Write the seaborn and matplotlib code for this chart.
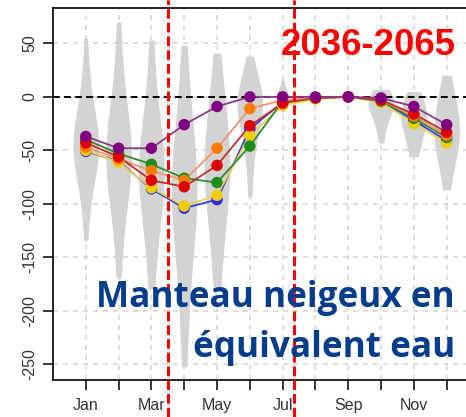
import matplotlib
matplotlib.use("Agg")
import matplotlib.pyplot as plt
import seaborn as sns
import pandas as pd

sns.set_style("white")
plt.rcParams['font.family'] = ['Liberation Sans', 'DejaVu Sans']

# ---------------- data ----------------
months = [1, 2, 3, 4, 5, 6, 7, 8, 9, 10, 11, 12]
month_labels = ["Jan", "", "Mar", "", "May", "", "Jul", "", "Sep", "", "Nov", ""]

# approximate ensemble spread (violins), per month
v_jan = [55, 22, 2, -14, -24, -31, -36, -40, -43, -45, -47, -50, -53, -57, -63, -71, -84, -104, -134]
v_feb = [70, 32, 6, -12, -26, -36, -43, -48, -52, -55, -58, -62, -67, -73, -82, -95, -114, -138, -169]
v_mar = [53, 18, -8, -26, -39, -49, -56, -61, -65, -69, -73, -78, -84, -92, -103, -118, -137, -158, -180]
v_apr = [48, 12, -16, -38, -54, -66, -74, -80, -85, -89, -94, -100, -108, -120, -136, -158, -186, -217, -252]
v_may = [41, 18, 0, -15, -28, -39, -48, -55, -61, -66, -71, -77, -84, -93, -105, -120, -140, -160, -178]
v_jun = [38, 17, 8, 3, 0, -2, -4, -6, -8, -11, -15, -20, -27, -37, -51, -70, -93]
v_jul = [16, 8, 4, 2, 0, -1, -2, -4, -7, -14]
v_aug = [2, 1, 0, 0, -1, -2, -3]
v_sep = [1, 0, 0, 0, -1, -1, -2]
v_oct = [7, 3, 0, -2, -4, -6, -8, -10, -13, -17, -23, -32, -43]
v_nov = [5, 0, -5, -9, -13, -16, -19, -22, -25, -29, -34, -41, -48, -56]
v_dec = [20, 8, -2, -10, -17, -23, -28, -32, -36, -40, -45, -51, -59, -70, -87]

# scenario series (points)
s_blue = [-51, -60, -86, -104, -96, -30, -5, -1, 0, -4, -22, -41]
s_yellow = [-50, -61, -85, -102, -92, -36, -8, -2, 0, -5, -25, -43]
s_green = [-40, -53, -63, -76, -80, -46, -4, -1, 0, -4, -20, -38]
s_orange = [-47, -58, -69, -78, -48, -11, -3, -1, 0, -3, -18, -36]
s_red = [-43, -56, -78, -84, -64, -27, -6, -1, 0, -3, -16, -33]
s_purple = [-37, -48, -48, -26, -9, 0, 0, 0, 0, -1, -9, -26]

series_names = ["blue", "yellow", "green", "orange", "red", "purple"]
series_vals = [s_blue, s_yellow, s_green, s_orange, s_red, s_purple]
marker_colors = ["#2a2ae6", "#f2cc00", "#1c8c1c", "#ff7a00", "#dd0000", "#800080"]
line_colors = ["#3a3aee", "#e8d44a", "#2e8b2e", "#f4956a", "#c0302a", "#8b3a8b"]

title_text = "2036-2065"
label_line1 = "Manteau neigeux en"
label_line2 = "équivalent eau"

# ---------------- build tables ----------------
violins_main = {1: v_jan, 2: v_feb, 3: v_mar, 4: v_apr, 5: v_may, 6: v_jun,
                10: v_oct, 11: v_nov, 12: v_dec}
violins_small = {7: v_jul, 8: v_aug, 9: v_sep}

def to_df(d):
    rows = []
    for m, vals in d.items():
        for v in vals:
            rows.append((m, v))
    return pd.DataFrame(rows, columns=["month", "value"])

vdf_main = to_df(violins_main)
vdf_small = to_df(violins_small)

rows = []
for name, vals in zip(series_names, series_vals):
    for m, v in zip(months, vals):
        rows.append((name, m, v))
sdf = pd.DataFrame(rows, columns=["series", "month", "value"])

# ---------------- figure ----------------
W, H = 466, 417
fig = plt.figure(figsize=(W / 100, H / 100), dpi=100)
ax_left, ax_bottom, ax_top = 53, 37, 8
ax_h = H - ax_bottom - ax_top
ax = fig.add_axes([ax_left / W, ax_bottom / H, 1 - ax_left / W, ax_h / H])

sns.violinplot(data=vdf_main, x="month", y="value", native_scale=True, color="#d3d3d3",
               saturation=1, linewidth=0, inner=None, cut=0, density_norm="width",
               width=0.78, bw_adjust=1.25, ax=ax)
sns.violinplot(data=vdf_small, x="month", y="value", native_scale=True, color="#d3d3d3",
               saturation=1, linewidth=0, inner=None, cut=0, density_norm="width",
               width=0.4, ax=ax)

ax.axhline(0, color="black", lw=1.4, dashes=(3.5, 2.2), zorder=2)

sns.lineplot(data=sdf, x="month", y="value", hue="series", hue_order=series_names,
             palette=line_colors, lw=1.3, legend=False, ax=ax, zorder=3)
sns.scatterplot(data=sdf, x="month", y="value", hue="series", hue_order=series_names,
                palette=marker_colors, s=68, linewidth=0, legend=False, ax=ax, zorder=4)

ax.set_xlim(0, 12.59)
ax.set_ylim(-264.5, 83)
ax.set_xticks(months)
ax.set_xticklabels(month_labels)
ax.set_yticks([-250, -200, -150, -100, -50, 0, 50])
ax.set_yticklabels(["-250", "-200", "-150", "-100", "-50", "0", "50"],
                   rotation=90, va="center")
ax.set_xlabel("")
ax.set_ylabel("")

ax.set_axisbelow(True)
ax.grid(True, color="#d8d8d8", lw=1.2, dashes=(3, 3))
for side in ["left", "bottom", "top"]:
    ax.spines[side].set_visible(True)
    ax.spines[side].set_color("black")
    ax.spines[side].set_linewidth(1.2)
ax.spines["right"].set_visible(False)
ax.tick_params(axis="both", direction="out", length=7.2, width=1.1, color="black",
               labelsize=11.5, labelcolor="#333333", bottom=True, left=True)
ax.tick_params(axis="x", pad=6)
ax.tick_params(axis="y", pad=4)

# red period markers spanning the whole figure height
for xv in [3.5, 7.35]:
    ax.axvline(xv, ymin=-ax_bottom / ax_h, ymax=1 + ax_top / ax_h, clip_on=False,
               color="red", lw=2.2, dashes=(3.2, 1.3), zorder=6)

t1 = fig.text(456 / W, 1 - 55 / H, title_text, color="red", fontweight="bold",
              fontsize=26, ha="right", va="baseline", family="Liberation Sans", zorder=7)
t2 = fig.text(455 / W, 1 - 307 / H, label_line1, color="#063c8c", fontweight="bold",
              fontsize=24, ha="right", va="baseline", family="Open Sans", zorder=5)
t3 = fig.text(455 / W, 1 - 357 / H, label_line2, color="#063c8c", fontweight="bold",
              fontsize=24, ha="right", va="baseline", family="Open Sans", zorder=5)

fig.canvas.draw()
r = fig.canvas.get_renderer()
for t, target in [(t1, 175), (t2, 358)]:
    bb = t.get_window_extent(r)
    t.set_fontsize(t.get_fontsize() * target / bb.width)
t3.set_fontsize(t2.get_fontsize())

fig.savefig("out.png", dpi=100)
